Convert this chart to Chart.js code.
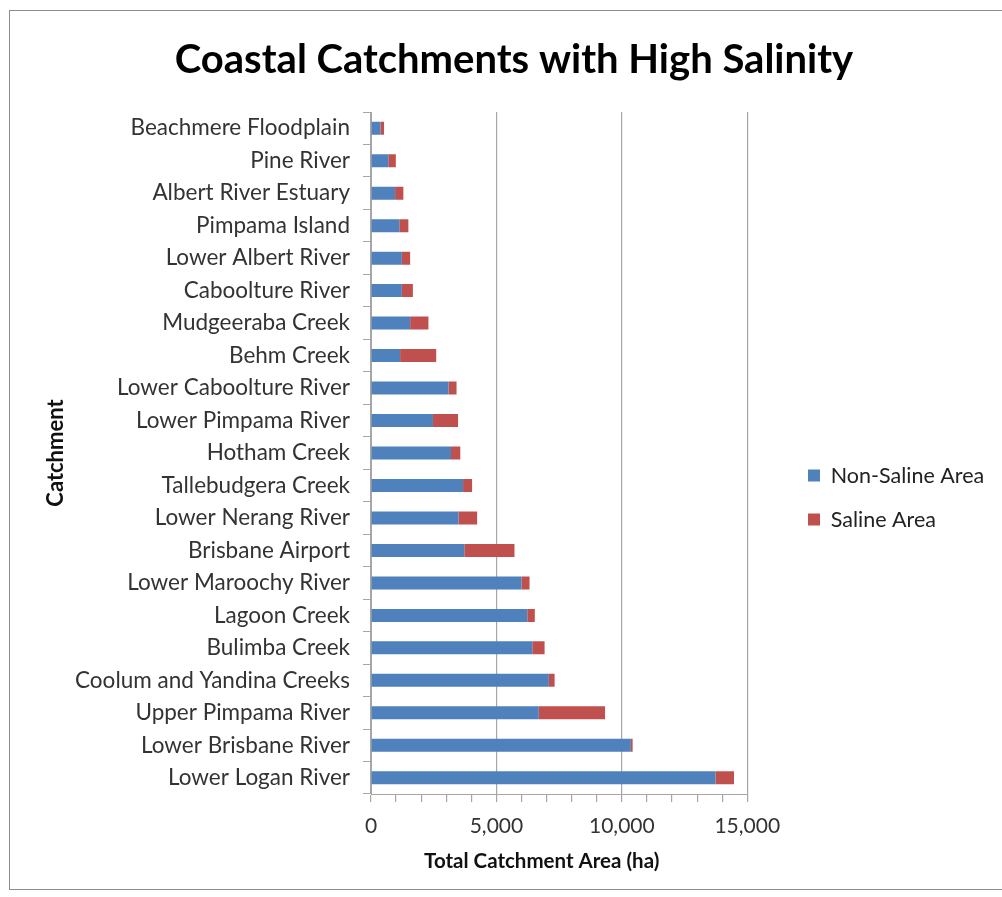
<!DOCTYPE html>
<html>
<head>
<meta charset="utf-8">
<script src="https://cdn.jsdelivr.net/npm/chart.js@4.4.1/dist/chart.umd.min.js"></script>
<style>
  html, body { margin: 0; padding: 0; background: #fff; }
  #wrap { position: relative; width: 1002px; height: 897px; }
  #frame { position: absolute; left: 9px; top: 10px; width: 1010px; height: 880px;
           border: 1px solid #8c8c8c; box-sizing: border-box; }
  canvas { position: absolute; left: 0; top: 0; }
</style>
</head>
<body>
<div id="wrap">
  <div id="frame"></div>
  <canvas id="c" width="1002" height="897"></canvas>
</div>
<script>
const categories = ['Beachmere Floodplain','Pine River','Albert River Estuary','Pimpama Island','Lower Albert River','Caboolture River','Mudgeeraba Creek','Behm Creek','Lower Caboolture River','Lower Pimpama River','Hotham Creek','Tallebudgera Creek','Lower Nerang River','Brisbane Airport','Lower Maroochy River','Lagoon Creek','Bulimba Creek','Coolum and Yandina Creeks','Upper Pimpama River','Lower Brisbane River','Lower Logan River'];
const nonSalineArea = [380, 690, 960, 1130, 1230, 1230, 1560, 1160, 3090, 2470, 3190, 3670, 3490, 3720, 6000, 6230, 6430, 7090, 6690, 10360, 13730];
const salineArea = [140, 300, 330, 360, 330, 440, 730, 1440, 320, 1000, 370, 360, 740, 2000, 320, 300, 490, 230, 2640, 70, 740];
const xTickValues = [0, 5000, 10000, 15000];

const FONT = 'Lato, "Open Sans", sans-serif';
const GRID = '#a6a6a6';
const LEGEND_PAD = 22.5;

// reposition the library's legend and title blocks after layout
const blockShift = {
  id: 'blockShift',
  afterLayout(chart) {
    const l = chart.legend;
    if (l) {
      const dx = 808 - (l.left + LEGEND_PAD);
      l.left += dx; l.right += dx;
    }
    const t = chart.titleBlock;
    if (t) { t.left += 23; t.right += 23; }
  }
};

new Chart(document.getElementById('c'), {
  type: 'bar',
  data: {
    labels: categories,
    datasets: [
      { label: 'Non-Saline Area', data: nonSalineArea, backgroundColor: '#4F81BD', barPercentage: 0.4, categoryPercentage: 1 },
      { label: 'Saline Area', data: salineArea, backgroundColor: '#C0504D', barPercentage: 0.4, categoryPercentage: 1 }
    ]
  },
  plugins: [blockShift],
  options: {
    indexAxis: 'y',
    responsive: false,
    animation: false,
    layout: { padding: { left: 26, right: 46, top: 20, bottom: 23 } },
    plugins: {
      title: {
        display: true,
        text: 'Coastal Catchments with High Salinity',
        color: '#000',
        font: { family: FONT, size: 40, weight: 'bold' },
        padding: { top: 16, bottom: 28 }
      },
      legend: {
        position: 'right',
        title: { display: true, text: ' ', font: { size: 1 }, padding: { top: 100, bottom: 0 } },
        labels: {
          color: '#222',
          font: { family: FONT, size: 21.5 },
          boxWidth: 12, boxHeight: 12,
          padding: LEGEND_PAD
        }
      },
      tooltip: { enabled: false }
    },
    scales: {
      x: {
        stacked: true,
        min: 0, max: 15000,
        afterFit: s => { s.height = 80; },
        afterBuildTicks: s => { const t = []; for (let v = 0; v <= 15000; v += 1000) t.push({ value: v }); s.ticks = t; },
        ticks: {
          autoSkip: false, maxRotation: 0,
          color: '#333',
          font: { family: FONT, size: 21 },
          padding: 12,
          callback: v => xTickValues.includes(v) ? v.toLocaleString('en-US') : ''
        },
        grid: {
          color: ctx => (ctx.tick && ctx.tick.value % 5000 === 0) ? GRID : 'transparent',
          tickColor: GRID,
          tickLength: 8,
          lineWidth: 1.2
        },
        border: { color: GRID },
        title: {
          display: true,
          text: 'Total Catchment Area (ha)       ',
          color: '#111',
          font: { family: FONT, size: 20.5, weight: 'bold' },
          padding: { top: 4, bottom: 0 }
        }
      },
      y: {
        stacked: true,
        afterFit: s => { s.width = 371 - 26; },
        ticks: {
          color: '#333',
          font: { family: FONT, size: 22.5 },
          padding: 13,
          autoSkip: false
        },
        grid: { drawOnChartArea: false, tickColor: GRID, tickLength: 8, offset: true },
        border: { color: GRID },
        title: {
          display: true,
          text: 'Catchment',
          color: '#111',
          font: { family: FONT, size: 22, weight: 'bold' },
          padding: { top: 17, bottom: 0 }
        }
      }
    }
  }
});
</script>
</body>
</html>
